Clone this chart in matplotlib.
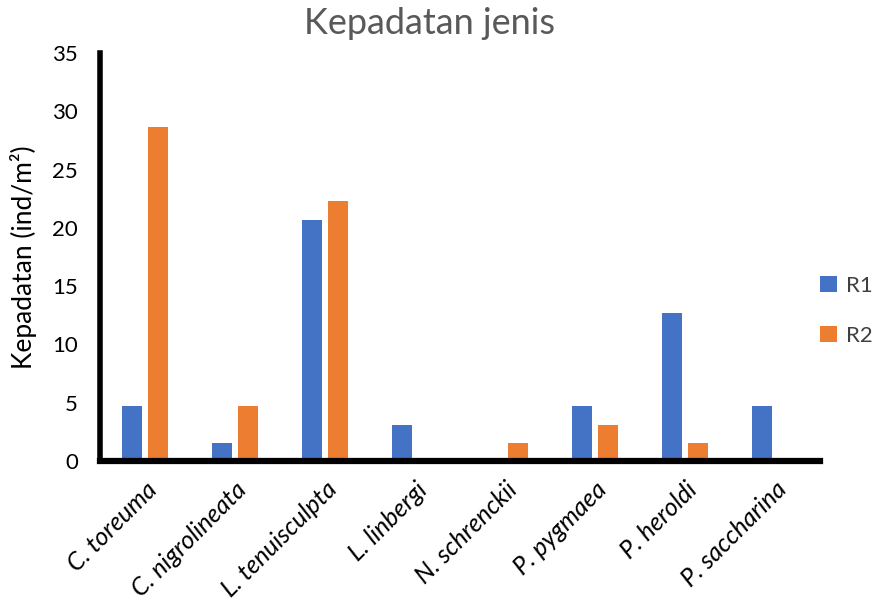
import matplotlib
matplotlib.use("Agg")
import matplotlib.pyplot as plt
import numpy as np

categories = ["C. toreuma", "C. nigrolineata", "L. tenuisculpta", "L. linbergi",
              "N. schrenckii", "P. pygmaea", "P. heroldi", "P. saccharina"]
r1 = [4.69, 1.56, 20.7, 3.13, 0, 4.69, 12.7, 4.69]
r2 = [28.65, 4.69, 22.3, 0, 1.56, 3.13, 1.56, 0]
yticks = [0, 5, 10, 15, 20, 25, 30, 35]

plt.rcParams['font.family'] = ['Lato', 'DejaVu Sans']

fig = plt.figure(figsize=(8.74, 6), dpi=100)
ax = fig.add_axes([100/874, 1-461/600, 720/874, (461-53)/600])

x = np.arange(len(categories))
w = 0.22
ax.bar(x - 0.145, r1, width=w, color="#4472C4", label="R1")
ax.bar(x + 0.145, r2, width=w, color="#ED7D31", label="R2")

ax.set_xlim(-0.5, len(categories) - 0.5)
ax.set_ylim(0, 35)
ax.set_yticks(yticks)
ax.set_yticklabels([str(t) for t in yticks], fontsize=16, color="#000000")
ax.set_xticks(x)
ax.set_xticklabels(categories, rotation=45, ha="right", rotation_mode="anchor",
                   fontsize=18, style="italic", color="#000000")
ax.tick_params(axis='y', length=0, pad=16)
ax.tick_params(axis='x', length=0, pad=12)

for s in ["top", "right"]:
    ax.spines[s].set_visible(False)
ax.spines["left"].set_linewidth(4)
ax.spines["bottom"].set_linewidth(4.5)

ax.set_ylabel("Kepadatan (ind/m²)", fontsize=19, color="#000000")
ax.yaxis.set_label_coords(-0.088, 0.5)
fig.text(430/874, 1-24/600, "Kepadatan jenis", ha="center", va="center",
         fontsize=26, color="#595959")

leg = ax.legend(loc="upper left", bbox_to_anchor=(820/874, 1-276/600),
                bbox_transform=fig.transFigure, frameon=False,
                fontsize=16, handlelength=0.75, handleheight=0.75,
                labelspacing=1.35, handletextpad=0.4, borderaxespad=0, borderpad=0)
for t in leg.get_texts():
    t.set_color("#404040")

fig.savefig("out.png", dpi=100)
